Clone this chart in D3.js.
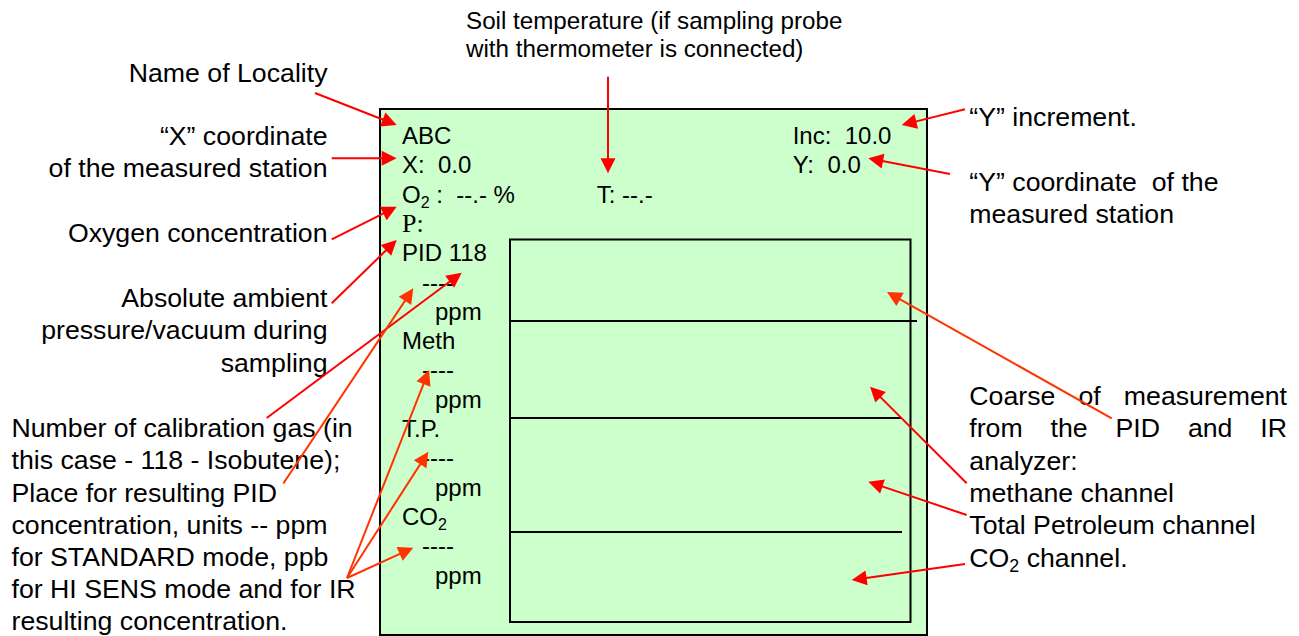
<!DOCTYPE html>
<html>
<head>
<meta charset="utf-8">
<script src="https://cdn.jsdelivr.net/npm/d3@7/dist/d3.min.js"></script>
<style>
  html, body { margin: 0; padding: 0; background: #fff; }
  svg { display: block; font-family: "Liberation Sans", Arial, sans-serif; }
  text { white-space: pre; fill: #000; }
</style>
</head>
<body>
<svg id="chart" width="1299" height="636"></svg>
<script>
// ---------------- DATA ----------------
const localityName = "ABC";
const coordXValue = "0.0";
const coordYValue = "0.0";
const incrementValue = "10.0";
const oxygenValue = "--.-";
const temperatureValue = "--.-";
const channelNames = ["PID 118", "Meth", "T.P.", "CO_2"];
const channelValues = ["----", "----", "----", "----"];
const channelUnits = ["ppm", "ppm", "ppm", "ppm"];

const noteLocality = ["Name of Locality"];
const noteXCoord = ["\u201CX\u201D coordinate", "of the measured station"];
const noteOxygen = ["Oxygen concentration"];
const notePressure = ["Absolute ambient", "pressure/vacuum during", "sampling"];
const noteCalibration = [
  "Number of calibration gas (in",
  "this case - 118 - Isobutene);",
  "Place for resulting PID",
  "concentration, units -- ppm",
  "for STANDARD mode, ppb",
  "for HI SENS mode and for IR",
  "resulting concentration."
];
const noteSoilTemp = ["Soil temperature (if sampling probe", "with thermometer is connected)"];
const noteYInc = ["\u201CY\u201D increment."];
const noteYCoord = ["\u201CY\u201D coordinate  of the", "measured station"];
const noteCourse = [
  "Coarse of measurement",
  "from the PID and IR",
  "analyzer:",
  "methane channel",
  "Total Petroleum channel",
  "CO_2 channel."
];
const noteCourseJustified = [true, true, false, false, false, false];

// ---------------- LAYOUT ----------------
const svg = d3.select("#chart");
const RED = "#FF0000", ORANGE = "#FF3300", FILL = "#CCFFCC";

// rows of the display, built from the data
const rows = [
  {t: localityName, k: "label"},
  {t: "X:  " + coordXValue, k: "label"},
  {t: "O_2 :  " + oxygenValue + " %", k: "label"},
  {t: "P:", k: "serif"}
];
channelNames.forEach((c, i) => {
  rows.push({t: c, k: "label"});
  rows.push({t: channelValues[i], k: "value"});
  rows.push({t: channelUnits[i], k: "unit"});
});

const rowY = d3.scaleLinear().domain([0, rows.length - 1]).range([144, 583.5]);
const indent = {label: 402, serif: 402, value: 422, unit: 435};

// helper: text with "_d" subscripts
function rich(sel, str, size) {
  const parts = str.split(/(_\d)/).filter(s => s.length);
  let shifted = false;
  parts.forEach(p => {
    if (p[0] === "_") {
      sel.append("tspan").attr("font-size", size * 0.667).attr("dy", size * 0.22).text(p.slice(1));
      shifted = true;
    } else {
      const ts = sel.append("tspan").text(p);
      if (shifted) { ts.attr("dy", -size * 0.22); shifted = false; }
    }
  });
  return sel;
}

// outer display box
svg.append("rect").attr("x", 380).attr("y", 109).attr("width", 547).attr("height", 526)
  .attr("fill", FILL).attr("stroke", "#000").attr("stroke-width", 2);

// graph panel
const panelX0 = 510, panelX1 = 910.5, panelY0 = 239.5, panelY1 = 622;
svg.append("rect").attr("x", panelX0).attr("y", panelY0)
  .attr("width", panelX1 - panelX0).attr("height", panelY1 - panelY0)
  .attr("fill", "none").attr("stroke", "#000").attr("stroke-width", 2);
const dividers = [{y: 321, x1: 917}, {y: 418, x1: 902}, {y: 532, x1: 902}];
svg.selectAll("line.div").data(dividers).join("line").attr("class", "div")
  .attr("x1", panelX0).attr("x2", d => d.x1).attr("y1", d => d.y).attr("y2", d => d.y)
  .attr("stroke", "#000").attr("stroke-width", 2);

// display texts
const FS = 24;
rows.forEach((r, i) => {
  const t = svg.append("text").attr("x", indent[r.k]).attr("y", rowY(i))
    .attr("font-size", r.k === "serif" ? 26 : FS);
  if (r.k === "serif") t.attr("font-family", "'Liberation Serif', 'Times New Roman', serif");
  rich(t, r.t, FS);
});
svg.append("text").attr("x", 792.7).attr("y", rowY(0)).attr("font-size", FS).text("Inc:  " + incrementValue);
svg.append("text").attr("x", 792.7).attr("y", rowY(1)).attr("font-size", FS).text("Y:  " + coordYValue);
svg.append("text").attr("x", 596.7).attr("y", rowY(2)).attr("font-size", FS).text("T: " + temperatureValue);

// annotations
const AF = 26.7, ALH = 32.4;
function block(lines, x, y0, anchor, size, lh) {
  lines.forEach((l, i) => {
    const t = svg.append("text").attr("x", x).attr("y", y0 + i * lh)
      .attr("font-size", size).attr("text-anchor", anchor);
    rich(t, l, size);
  });
}
block(noteLocality, 327.5, 81.7, "end", AF, ALH);
block(noteXCoord, 327.5, 145, "end", AF, ALH);
block(noteOxygen, 327.5, 241.7, "end", AF, ALH);
block(notePressure, 327.5, 306.7, "end", AF, ALH);
block(noteCalibration, 11.5, 437.3, "start", AF, 32.1);
block(noteSoilTemp, 466, 29.3, "start", 24.2, 28);
block(noteYInc, 969.3, 126, "start", AF, ALH);
block(noteYCoord, 969.3, 190.7, "start", AF, 32.6);

// justified paragraph on the right
const cx0 = 969.3, cx1 = 1287, cy0 = 405, clh = 32.3;
noteCourse.forEach((line, i) => {
  const y = cy0 + i * clh;
  if (noteCourseJustified[i]) {
    const words = line.split(" ");
    const nodes = words.map(w => svg.append("text").attr("y", y).attr("font-size", AF).text(w));
    const widths = nodes.map(n => n.node().getComputedTextLength());
    const gap = (cx1 - cx0 - d3.sum(widths)) / (words.length - 1);
    let x = cx0;
    nodes.forEach((n, j) => { n.attr("x", x); x += widths[j] + gap; });
  } else {
    const t = svg.append("text").attr("x", cx0).attr("y", y).attr("font-size", AF);
    rich(t, line, AF);
  }
});

// arrows: [tailX, tailY, tipX, tipY, colour]
const arrows = [
  [315, 93, 396.7, 125, RED],
  [331.7, 158.3, 396.7, 158.3, RED],
  [331.7, 239.3, 396.7, 206.7, RED],
  [331.7, 303.3, 396.7, 240, RED],
  [266.7, 418, 461.7, 272.7, RED],
  [283.3, 483.5, 413.3, 288.3, ORANGE],
  [347, 578, 429, 370, ORANGE],
  [347, 578, 428.3, 451.7, ORANGE],
  [347, 578, 413.3, 547.7, ORANGE],
  [608, 76.7, 608, 173.3, RED],
  [965, 109.3, 901.7, 125, RED],
  [950, 174, 868.3, 158.3, RED],
  [1111.7, 418.3, 887, 292, ORANGE],
  [966.7, 483.3, 870, 386.7, RED],
  [966.7, 515, 868.3, 481.7, RED],
  [965, 564, 851.7, 580, RED]
];
const HL = 15, HW = 7.5;
const ag = svg.append("g");
arrows.forEach(([x0, y0, x1, y1, c]) => {
  const dx = x1 - x0, dy = y1 - y0, len = Math.hypot(dx, dy);
  const ux = dx / len, uy = dy / len;
  const bx = x1 - ux * HL, by = y1 - uy * HL;
  ag.append("line").attr("x1", x0).attr("y1", y0).attr("x2", bx + ux * 2).attr("y2", by + uy * 2)
    .attr("stroke", c).attr("stroke-width", 2);
  const pts = [[x1, y1], [bx - uy * HW, by + ux * HW], [bx + uy * HW, by - ux * HW]];
  ag.append("polygon").attr("points", pts.map(p => p.join(",")).join(" ")).attr("fill", c);
});
</script>
</body>
</html>
